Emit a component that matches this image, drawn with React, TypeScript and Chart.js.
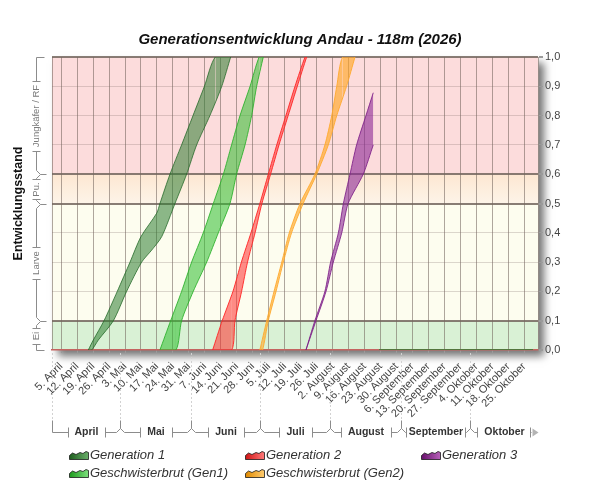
import React, { useEffect, useRef } from "react";
import { Chart, registerables } from "chart.js";

Chart.register(...registerables);

// ---------- texts & axis data ----------
const chartTitle = "Generationsentwicklung Andau - 118m (2026)";
const yAxisTitle = "Entwicklungsstand";

// days counted from 1. April (day 0) to 31. Oktober (day 213)
const seasonStartDay = 0;
const seasonEndDay = 213;

const weekTickDays = [4, 11, 18, 25, 32, 39, 46, 53, 60, 67, 74, 81, 88, 95, 102, 109, 116, 123, 130, 137, 144, 151, 158, 165, 172, 179, 186, 193, 200, 207];
const weekTickLabels = [
  "5. April", "12. April", "19. April", "26. April",
  "3. Mai", "10. Mai", "17. Mai", "24. Mai", "31. Mai",
  "7. Juni", "14. Juni", "21. Juni", "28. Juni",
  "5. Juli", "12. Juli", "19. Juli", "26. Juli",
  "2. August", "9. August", "16. August", "23. August", "30. August",
  "6. September", "13. September", "20. September", "27. September",
  "4. Oktober", "11. Oktober", "18. Oktober", "25. Oktober",
];
const monthStartDays = [0, 30, 61, 91, 122, 153, 183, 213];
const monthNames = ["April", "Mai", "Juni", "Juli", "August", "September", "Oktober"];

const stageBounds = [0, 0.1, 0.5, 0.6, 1.0];
const stageNames = ["Ei", "Larve", "Pu.", "Jungkäfer / RF"];
const yTickStep = 0.1;

const seriesNames = ["Generation 1", "Geschwisterbrut (Gen1)", "Generation 2", "Geschwisterbrut (Gen2)", "Generation 3"];

// ---------- series values (day, development stage) ----------
// Generation 1
const gen1UpperDays = [15.9, 18.1, 22.8, 28.6, 34.2, 39.0, 45.9, 47.3, 51.7, 56.8, 61.8, 66.8, 71.6, 78.3];
const gen1UpperValues = [0, 0.034, 0.1, 0.2, 0.3, 0.387, 0.467, 0.5, 0.6, 0.7, 0.8, 0.9, 1.0, 1.0];
const gen1LowerDays = [15.9, 17.4, 20.3, 26.9, 32.7, 39.3, 43.7, 48.1, 53.9, 59.0, 63.4, 69.2, 74.4, 78.3];
const gen1LowerValues = [0, 0, 0.034, 0.1, 0.2, 0.3, 0.341, 0.387, 0.5, 0.6, 0.7, 0.8, 0.9, 1.0];

// Geschwisterbrut (Gen1)
const sib1UpperDays = [47.3, 52.0, 56.8, 61.2, 66.3, 70.7, 75.1, 78.7, 82.4, 86.8, 90.8, 92.6];
const sib1UpperValues = [0, 0.1, 0.2, 0.3, 0.4, 0.5, 0.6, 0.7, 0.8, 0.9, 1.0, 1.0];
const sib1LowerDays = [47.3, 54.3, 56.8, 61.9, 67.8, 72.9, 78.0, 80.9, 84.6, 87.5, 89.7, 92.6];
const sib1LowerValues = [0, 0, 0.1, 0.2, 0.3, 0.4, 0.5, 0.6, 0.7, 0.8, 0.9, 1.0];

// Generation 2
const gen2UpperDays = [70.4, 74.6, 79.3, 83.0, 87.2, 91.1, 94.8, 98.5, 102.5, 106.5, 110.9, 111.6];
const gen2UpperValues = [0, 0.1, 0.2, 0.3, 0.4, 0.5, 0.6, 0.7, 0.8, 0.9, 1.0, 1.0];
const gen2LowerDays = [70.4, 78.7, 80.2, 83.1, 85.7, 89.0, 92.0, 95.8, 99.5, 103.5, 107.5, 111.6];
const gen2LowerValues = [0, 0, 0.1, 0.2, 0.3, 0.4, 0.5, 0.6, 0.7, 0.8, 0.9, 1.0];

// Geschwisterbrut (Gen2)
const sib2UpperDays = [91.1, 94.1, 97.3, 100.7, 104.0, 108.7, 115.2, 119.6, 122.6, 124.8, 127.4, 132.8];
const sib2UpperValues = [0, 0.1, 0.2, 0.3, 0.4, 0.5, 0.6, 0.7, 0.8, 0.9, 1.0, 1.0];
const sib2LowerDays = [91.1, 92.3, 94.8, 98.2, 101.4, 105.0, 110.1, 116.0, 121.1, 124.8, 129.1, 132.8];
const sib2LowerValues = [0, 0, 0.1, 0.2, 0.3, 0.4, 0.5, 0.6, 0.7, 0.8, 0.9, 1.0];

// Generation 3
const gen3UpperDays = [111.3, 115.2, 119.6, 122.1, 125.5, 127.7, 130.6, 133.5, 137.6, 140.8];
const gen3UpperValues = [0, 0.1, 0.2, 0.3, 0.4, 0.5, 0.6, 0.7, 0.8, 0.878];
const gen3LowerDays = [111.3, 115.7, 120.1, 123.3, 127.0, 129.8, 136.4, 140.8];
const gen3LowerValues = [0, 0.1, 0.2, 0.3, 0.4, 0.5, 0.6, 0.7];

// start line at stage 0 (late season)
const zeroLineDays = [143.3, 210.8];
const zeroLineValues = [0, 0];

// ---------- styles ----------
const FONT = "'Liberation Sans', Arial, Helvetica, sans-serif";

const seriesStyles: Record<string, { fill: string; line: string; dark: string; light: string }> = {
  "Generation 1": { fill: "rgba(46,125,50,0.55)", line: "rgba(30,100,35,0.75)", dark: "#1d5e1d", light: "#6aae6a" },
  "Geschwisterbrut (Gen1)": { fill: "rgba(45,190,45,0.55)", line: "rgba(40,175,40,0.85)", dark: "#1c9a1c", light: "#7ee07e" },
  "Generation 2": { fill: "rgba(255,45,45,0.55)", line: "rgba(255,35,35,0.9)", dark: "#cf1414", light: "#ff7a7a" },
  "Geschwisterbrut (Gen2)": { fill: "rgba(255,165,30,0.62)", line: "rgba(255,170,45,0.9)", dark: "#e08a00", light: "#ffcc70" },
  "Generation 3": { fill: "rgba(140,40,150,0.6)", line: "rgba(125,30,135,0.85)", dark: "#67106b", light: "#b862ba" },
};

const bandColors = ["#d9f1d5", "#fdfdef", "#fdecdb", "#fcdcdc"];

const seriesData = [
  { upX: gen1UpperDays, upY: gen1UpperValues, loX: gen1LowerDays, loY: gen1LowerValues },
  { upX: sib1UpperDays, upY: sib1UpperValues, loX: sib1LowerDays, loY: sib1LowerValues },
  { upX: gen2UpperDays, upY: gen2UpperValues, loX: gen2LowerDays, loY: gen2LowerValues },
  { upX: sib2UpperDays, upY: sib2UpperValues, loX: sib2LowerDays, loY: sib2LowerValues },
  { upX: gen3UpperDays, upY: gen3UpperValues, loX: gen3LowerDays, loY: gen3LowerValues },
];

const toPoints = (xs: number[], ys: number[]) => xs.map((x, i) => ({ x, y: ys[i] }));

const hideFlatEdge = (ctx: any) => {
  const a = ctx.p0.parsed.y;
  const b = ctx.p1.parsed.y;
  return a === b && (a <= 0 || a >= 1) ? "rgba(0,0,0,0)" : undefined;
};

const isStageBound = (v: number) => stageBounds.some((b) => Math.abs(b - v) < 1e-6);

// ---------- plugins ----------
const plotFramePlugin = {
  id: "plotFrame",
  beforeDraw(chart: any) {
    const { ctx, chartArea: a, scales } = chart;
    const y = scales.y;
    ctx.save();
    ctx.shadowColor = "rgba(0,0,0,0.55)";
    ctx.shadowBlur = 8;
    ctx.shadowOffsetX = 6;
    ctx.shadowOffsetY = 6;
    ctx.fillStyle = "#ffffff";
    ctx.fillRect(a.left, a.top, a.right - a.left, a.bottom - a.top);
    ctx.restore();
    ctx.save();
    for (let i = 0; i < stageNames.length; i++) {
      const yb = y.getPixelForValue(stageBounds[i]);
      const yt = y.getPixelForValue(stageBounds[i + 1]);
      let fill: any = bandColors[i];
      if (i === 2) {
        const g = ctx.createLinearGradient(0, yt, 0, yb);
        g.addColorStop(0, "#fde7d2");
        g.addColorStop(1, "#fdf4e8");
        fill = g;
      }
      ctx.fillStyle = fill;
      ctx.fillRect(a.left, yt, a.right - a.left, yb - yt);
    }
    ctx.strokeStyle = "rgba(110,95,88,0.55)";
    ctx.lineWidth = 1;
    ctx.beginPath();
    ctx.moveTo(a.left + 0.5, a.top);
    ctx.lineTo(a.left + 0.5, a.bottom);
    ctx.stroke();
    ctx.restore();
  },
};

const bracketPlugin = {
  id: "brackets",
  afterDraw(chart: any) {
    const { ctx, chartArea: a, scales } = chart;
    const x = scales.x;
    const y = scales.y;
    ctx.save();

    // ---- month brackets below the x axis ----
    const lineY = 432.5;
    ctx.lineWidth = 1;
    ctx.setLineDash([2, 2]);
    ctx.strokeStyle = "#d2d2d2";
    for (let i = 0; i < monthStartDays.length - 1; i++) {
      const bx = Math.round(x.getPixelForValue(monthStartDays[i])) + 0.5;
      ctx.beginPath();
      ctx.moveTo(bx, a.bottom + 3);
      ctx.lineTo(bx, lineY - 12);
      ctx.stroke();
    }
    ctx.setLineDash([]);
    ctx.strokeStyle = "#8c8c8c";
    ctx.font = `bold 10.5px ${FONT}`;
    ctx.textAlign = "center";
    ctx.textBaseline = "middle";
    for (let i = 0; i < monthNames.length; i++) {
      const x0 = Math.round(x.getPixelForValue(monthStartDays[i])) + 0.5;
      const x1raw = Math.round(x.getPixelForValue(monthStartDays[i + 1])) + 0.5;
      const isFirst = i === 0;
      const isLast = i === monthNames.length - 1;
      const xa = isFirst ? x0 : x0 + 4;
      const xb = isLast ? x1raw - 7 : x1raw - 4;
      ctx.beginPath();
      if (isFirst) {
        ctx.moveTo(x0, lineY - 12);
        ctx.lineTo(x0, lineY);
      } else {
        ctx.moveTo(x0, lineY - 12);
        ctx.lineTo(x0, lineY - 4);
        ctx.moveTo(x0 - 4, lineY);
        ctx.lineTo(x0, lineY - 4);
        ctx.lineTo(x0 + 4, lineY);
      }
      ctx.stroke();
      const mid = (x0 + x1raw) / 2;
      const w = ctx.measureText(monthNames[i]).width;
      let barL = Math.round(mid - w / 2 - 7) + 0.5;
      let barR = Math.round(mid + w / 2 + 7) + 0.5;
      if (barL < xa + 1) barL = xa + 1;
      if (barR > xb - 1) barR = xb - 1;
      ctx.beginPath();
      ctx.moveTo(xa, lineY);
      ctx.lineTo(barL, lineY);
      ctx.moveTo(barR, lineY);
      ctx.lineTo(xb, lineY);
      ctx.moveTo(barL, lineY - 5);
      ctx.lineTo(barL, lineY + 5);
      ctx.moveTo(barR, lineY - 5);
      ctx.lineTo(barR, lineY + 5);
      ctx.stroke();
      ctx.fillStyle = "#333333";
      ctx.fillText(monthNames[i], mid, lineY);
      if (isLast) {
        ctx.fillStyle = "#b4b4b4";
        ctx.beginPath();
        ctx.moveTo(xb + 1, lineY - 4);
        ctx.lineTo(xb + 7, lineY);
        ctx.lineTo(xb + 1, lineY + 4);
        ctx.closePath();
        ctx.fill();
      }
    }

    // ---- stage brackets left of the plot ----
    const lineX = 36.5;
    ctx.strokeStyle = "#8c8c8c";
    ctx.font = `9.5px ${FONT}`;
    for (let i = 0; i < stageNames.length; i++) {
      const ya = Math.round(y.getPixelForValue(stageBounds[i])) + 0.5; // bottom
      const yb = Math.round(y.getPixelForValue(stageBounds[i + 1])) + 0.5; // top
      const isBottom = i === 0;
      const isTop = i === stageNames.length - 1;
      const yBot = isBottom ? ya : ya - 4;
      const yTop = isTop ? yb : yb + 4;
      const mid = (ya + yb) / 2;
      const w = ctx.measureText(stageNames[i]).width;
      let barT = Math.round(mid - w / 2 - 4) + 0.5;
      let barB = Math.round(mid + w / 2 + 4) + 0.5;
      if (barT < yTop + 1) barT = yTop + 1;
      if (barB > yBot - 1) barB = yBot - 1;
      ctx.beginPath();
      ctx.moveTo(lineX, yTop);
      ctx.lineTo(lineX, barT);
      ctx.moveTo(lineX, barB);
      ctx.lineTo(lineX, yBot);
      ctx.moveTo(lineX - 4, barT);
      ctx.lineTo(lineX + 4, barT);
      ctx.moveTo(lineX - 4, barB);
      ctx.lineTo(lineX + 4, barB);
      ctx.stroke();
      ctx.save();
      ctx.translate(lineX, mid);
      ctx.rotate(-Math.PI / 2);
      ctx.fillStyle = "#7a7a7a";
      ctx.textAlign = "center";
      ctx.textBaseline = "middle";
      ctx.fillText(stageNames[i], 0, 0);
      ctx.restore();
    }
    for (let i = 0; i < stageBounds.length; i++) {
      const by = Math.round(y.getPixelForValue(stageBounds[i])) + 0.5;
      ctx.beginPath();
      if (i === 0 || i === stageBounds.length - 1) {
        ctx.moveTo(lineX, by);
        ctx.lineTo(lineX + 8, by);
      } else {
        ctx.moveTo(lineX, by - 4);
        ctx.lineTo(lineX + 4, by);
        ctx.lineTo(lineX, by + 4);
        ctx.moveTo(lineX + 4, by);
        ctx.lineTo(lineX + 10, by);
      }
      ctx.stroke();
    }

    // ---- y axis title ----
    ctx.save();
    ctx.translate(19, (a.top + a.bottom) / 2);
    ctx.rotate(-Math.PI / 2);
    ctx.font = `bold 12.5px ${FONT}`;
    ctx.fillStyle = "#111111";
    ctx.textAlign = "center";
    ctx.textBaseline = "middle";
    ctx.fillText(yAxisTitle, 0, 0);
    ctx.restore();

    ctx.restore();
  },
};

// ---------- legend ----------
const legendCols = [69, 245, 421];
const legendRows = [455, 473];
const legendSlots: Record<string, [number, number]> = {
  "Generation 1": [0, 0],
  "Generation 2": [1, 0],
  "Generation 3": [2, 0],
  "Geschwisterbrut (Gen1)": [0, 1],
  "Geschwisterbrut (Gen2)": [1, 1],
};

function LegendIcon({ id, dark, light }: { id: string; dark: string; light: string }) {
  return (
    <svg width={20} height={10} viewBox="0 0 20 10" style={{ display: "block" }}>
      <defs>
        <linearGradient id={id} x1="0" y1="0" x2="1" y2="0">
          <stop offset="0" stopColor={dark} />
          <stop offset="1" stopColor={light} />
        </linearGradient>
      </defs>
      <path
        d="M0.5,9.5 L0.5,5.5 L3.5,3 L7,4.5 L11,2.5 L14,3.5 L17,1.5 L19.5,2.5 L19.5,9.5 Z"
        fill={`url(#${id})`}
        stroke="#1b1b1b"
        strokeWidth={0.8}
      />
    </svg>
  );
}

export default function App() {
  const canvasRef = useRef<HTMLCanvasElement | null>(null);

  useEffect(() => {
    const canvas = canvasRef.current;
    if (!canvas) return;

    const datasets: any[] = [];
    seriesNames.forEach((name, i) => {
      const d = seriesData[i];
      const st = seriesStyles[name];
      datasets.push({
        label: name + " (unten)",
        data: toPoints(d.loX, d.loY),
        borderColor: st.line,
        borderWidth: 1,
        pointRadius: 0,
        tension: 0.25,
        fill: false,
        segment: { borderColor: hideFlatEdge },
      });
      datasets.push({
        label: name,
        data: toPoints(d.upX, d.upY),
        borderColor: st.line,
        backgroundColor: st.fill,
        borderWidth: 1,
        pointRadius: 0,
        tension: 0.25,
        fill: "-1",
        segment: { borderColor: hideFlatEdge },
      });
    });
    datasets.push({
      label: "Start",
      data: toPoints(zeroLineDays, zeroLineValues),
      borderColor: "#2e7d32",
      borderWidth: 1.5,
      pointRadius: 0,
      fill: false,
    });

    const chart = new Chart(canvas, {
      type: "line",
      data: { datasets },
      options: {
        responsive: false,
        animation: false,
        devicePixelRatio: 1,
        layout: { padding: { left: 0, right: 0, top: 0, bottom: 80 } },
        plugins: {
          legend: { display: false },
          tooltip: { enabled: false },
          title: {
            display: true,
            text: chartTitle,
            color: "#111111",
            font: { family: FONT, size: 15, weight: "bold", style: "italic" },
            padding: { top: 31, bottom: 8 },
          },
        },
        scales: {
          x: {
            type: "linear",
            min: seasonStartDay,
            max: seasonEndDay,
            afterBuildTicks: (scale: any) => {
              scale.ticks = weekTickDays.map((v) => ({ value: v }));
            },
            afterFit: (scale: any) => {
              scale.height = 70;
            },
            ticks: {
              autoSkip: false,
              minRotation: 45,
              maxRotation: 45,
              padding: 7,
              color: "#444444",
              font: { family: FONT, size: 11 },
              callback: (_v: any, index: number) => weekTickLabels[index],
            },
            grid: {
              color: "rgba(110,95,88,0.55)",
              lineWidth: 1,
              tickLength: 3,
              tickColor: "#9a9a9a",
            },
            border: { display: true, color: "#c46460", width: 1.5 },
          },
          yl: {
            type: "linear",
            position: "left",
            min: 0,
            max: 1,
            afterFit: (scale: any) => {
              scale.width = 52;
            },
            ticks: { display: false },
            grid: { display: false, drawTicks: false },
            border: { display: false },
          },
          y: {
            position: "right",
            min: 0,
            max: 1,
            afterFit: (scale: any) => {
              scale.width = 62;
            },
            ticks: {
              stepSize: yTickStep,
              padding: 2,
              color: "#444444",
              font: { family: FONT, size: 11 },
              callback: (v: any) => Number(v).toFixed(1).replace(".", ","),
            },
            grid: {
              color: (c: any) => {
                if (!c.tick) return "rgba(0,0,0,0)";
                const v = c.tick.value;
                if (Math.abs(v) < 1e-6) return "rgba(0,0,0,0)";
                if (isStageBound(v)) return "rgba(115,102,94,0.85)";
                return "rgba(120,100,95,0.25)";
              },
              lineWidth: (c: any) => (c.tick && isStageBound(c.tick.value) ? 2 : 1),
              tickLength: 5,
              tickColor: "#9a9a9a",
            },
            border: { display: true, color: "rgba(150,140,134,0.8)", width: 1 },
          },
        },
      },
      plugins: [plotFramePlugin, bracketPlugin],
    } as any);

    return () => {
      chart.destroy();
    };
  }, []);

  return (
    <div style={{ position: "fixed", left: 0, top: 0, width: 600, height: 500, background: "#ffffff", overflow: "hidden" }}>
      <canvas ref={canvasRef} width={600} height={500} style={{ position: "absolute", left: 0, top: 0, width: 600, height: 500 }} />
      {seriesNames.map((name, i) => {
        const [col, row] = legendSlots[name];
        const st = seriesStyles[name];
        return (
          <div
            key={name}
            style={{
              position: "absolute",
              left: legendCols[col],
              top: legendRows[row] - 8,
              height: 16,
              display: "flex",
              alignItems: "center",
              whiteSpace: "nowrap",
            }}
          >
            <LegendIcon id={`lg${i}`} dark={st.dark} light={st.light} />
            <span
              style={{
                marginLeft: 1,
                fontFamily: FONT,
                fontStyle: "italic",
                fontSize: 13,
                color: "#333333",
                lineHeight: "16px",
              }}
            >
              {name}
            </span>
          </div>
        );
      })}
    </div>
  );
}
